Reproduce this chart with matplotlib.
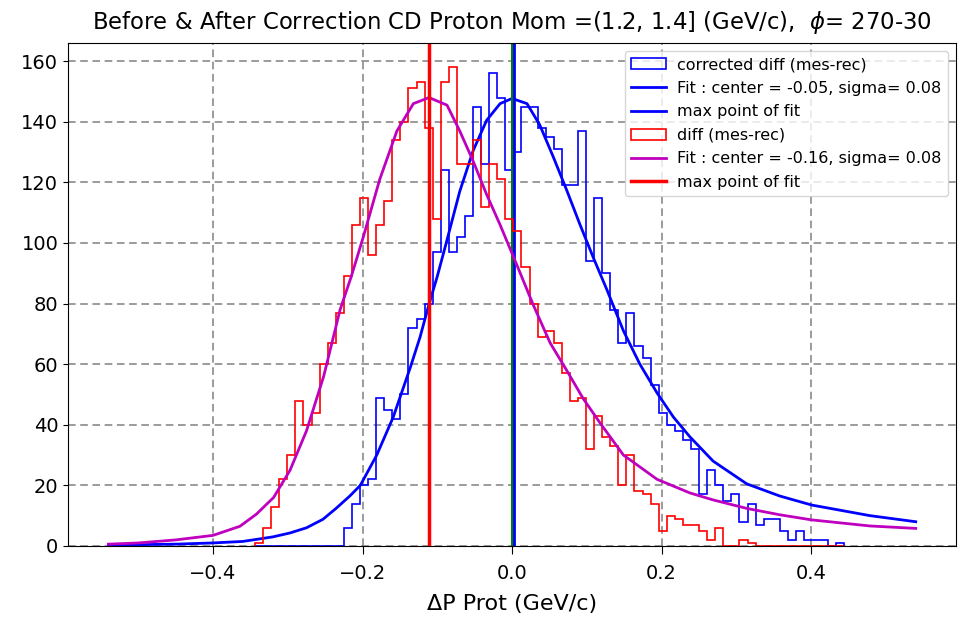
import numpy as np
import matplotlib
matplotlib.use("Agg")
import matplotlib.pyplot as plt

# histogram binning (shared by both histograms)
bin_start = -0.3438
bin_width = 0.0108
n_bins = 73

# counts per bin
diff_counts = [1, 6, 13, 22, 30, 48, 40, 44, 60, 67,
               77, 89, 106, 115, 96, 106, 114, 134, 140, 151,
               153, 138, 108, 153, 158, 126, 126, 134, 112, 126,
               121, 108, 104, 92, 80, 69, 71, 67, 57, 48,
               49, 32, 43, 36, 33, 20, 30, 18, 17, 14,
               5, 10, 9, 7, 7, 5, 2, 6, 0, 0,
               2, 1, 0, 0, 0, 0, 0, 0, 0, 0,
               0, 0, 0]
corr_counts = [0, 0, 0, 0, 0, 0, 0, 0, 0, 0,
               0, 6, 14, 20, 22, 49, 45, 42, 50, 72,
               75, 80, 97, 124, 97, 102, 109, 145, 126, 156,
               148, 124, 130, 145, 145, 138, 135, 131, 119, 119,
               137, 94, 115, 90, 78, 67, 77, 66, 62, 53,
               44, 40, 38, 35, 32, 17, 25, 20, 15, 17,
               8, 14, 7, 9, 9, 5, 2, 5, 2, 2,
               2, 0, 1]

# fit curves
corr_fit_x = [-0.54, -0.45, -0.40, -0.36, -0.32, -0.297, -0.275, -0.253, -0.235, -0.217,
              -0.203, -0.181, -0.159, -0.136, -0.123, -0.112, -0.100, -0.087, -0.070, -0.052,
              -0.034, -0.016, 0.0, 0.020, 0.037, 0.055, 0.073, 0.091, 0.109, 0.127,
              0.149, 0.171, 0.194, 0.216, 0.238, 0.269, 0.314, 0.358, 0.401, 0.479, 0.54]
corr_fit_y = [0.3, 0.6, 1.0, 1.5, 3.0, 4.3, 6.0, 8.8, 12.5, 16.5,
              20, 30, 42.5, 59, 69, 79, 89, 101, 117, 130.5,
              140.5, 146, 147.7, 146, 139, 128.5, 117.5, 106, 95, 84.5,
              71, 60, 50.5, 42.5, 36, 28, 20.5, 16.5, 13.5, 10, 8]

diff_fit_x = [-0.54, -0.50, -0.45, -0.40, -0.364, -0.342, -0.319, -0.297, -0.275, -0.252,
              -0.230, -0.215, -0.199, -0.177, -0.154, -0.132, -0.111, -0.087, -0.070, -0.052,
              -0.034, -0.016, 0.006, 0.0285, 0.051, 0.073, 0.095, 0.118, 0.149, 0.194,
              0.238, 0.269, 0.314, 0.358, 0.401, 0.479, 0.54]
diff_fit_y = [0.6, 1.0, 2.0, 3.5, 6.5, 10.5, 16, 25, 38, 56,
              78, 89, 102, 121, 137, 146, 148, 145.5, 137, 127,
              116, 106, 93, 79.5, 67, 58, 48.7, 40.5, 30, 22,
              17.5, 15.2, 12.4, 10.3, 8.6, 6.6, 5.8]

corr_max = 0.003
diff_max = -0.111

edges = bin_start + bin_width * np.arange(n_bins + 1)
centers = edges[:-1] + bin_width / 2

fig = plt.figure(figsize=(9.58, 6.2), dpi=100)
ax = fig.add_axes([0.071, 0.1194, 0.927, 0.8112])

ax.hist(centers, bins=edges, weights=corr_counts, histtype='step', color='blue',
        lw=1.2, label='corrected diff (mes-rec)')
ax.plot(corr_fit_x, corr_fit_y, color='blue', lw=2,
        label='Fit : center = -0.05, sigma= 0.08')
ax.axvline(0.0, color='green', lw=2.2)
ax.axvline(corr_max, color='blue', lw=2, label='max point of fit')
ax.hist(centers, bins=edges, weights=diff_counts, histtype='step', color='red',
        lw=1.2, label='diff (mes-rec)')
ax.plot(diff_fit_x, diff_fit_y, color='m', lw=2,
        label='Fit : center = -0.16, sigma= 0.08')
ax.axvline(diff_max, color='red', lw=2.5, label='max point of fit')

ax.set_xlim(-0.594, 0.594)
ax.set_ylim(0, 166)
ax.set_yticks(np.arange(0, 161, 20))
ax.set_xticks([-0.4, -0.2, 0.0, 0.2, 0.4])
ax.grid(True, color='grey', linestyle=(0, (5, 3)), lw=1.1)
ax.tick_params(labelsize=14)
ax.tick_params(axis='x', length=6, pad=7)

ax.set_title(r'Before & After Correction CD Proton Mom =(1.2, 1.4] (GeV/c),  $\phi$= 270-30',
             fontsize=16.4, pad=10)
ax.set_xlabel('ΔP Prot (GeV/c)', fontsize=16, labelpad=8)
ax.legend(loc='upper right', fontsize=11.5, labelspacing=0.53, handlelength=2.2,
          handletextpad=0.7, borderpad=0.4, borderaxespad=0.5)

fig.savefig('out.png', dpi=100)
